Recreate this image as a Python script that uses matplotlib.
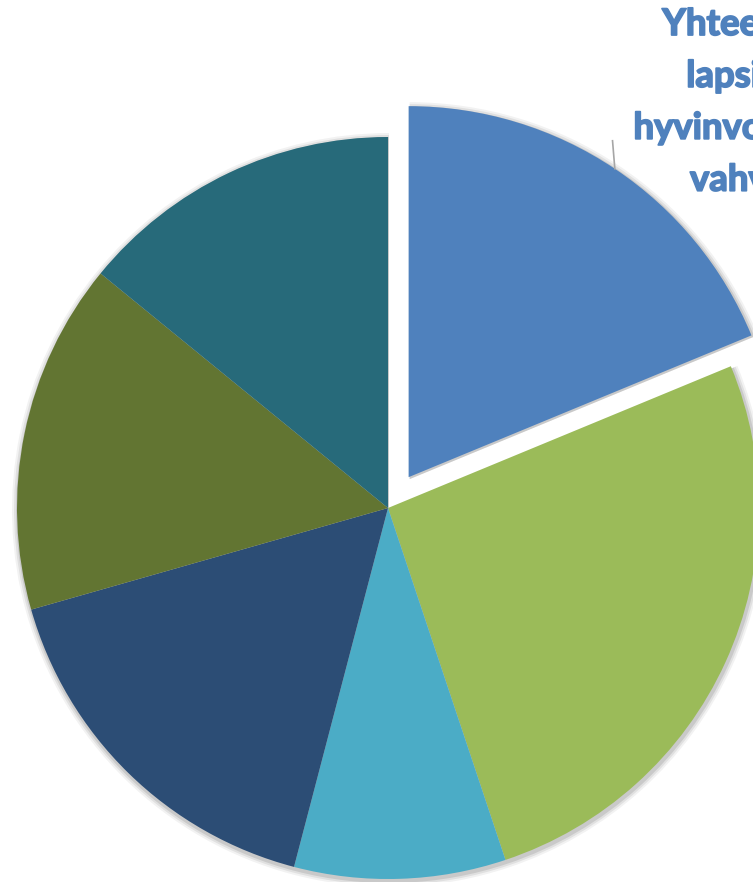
import matplotlib
matplotlib.use("Agg")
import matplotlib.pyplot as plt
import matplotlib.patheffects as pe
import numpy as np

# slice shares (%), clockwise from 12 o'clock
shares = [18.75, 26.1, 9.2, 16.5, 15.3, 14.1]
colors = ["#4F81BD", "#9BBB59", "#4BACC6", "#2C4D75", "#627532", "#276A7A"]
label_text = "Yhteensä\nlapsiin\nhyvinvoinnin\nvahva"

W, H = 753, 882
fig = plt.figure(figsize=(W / 100, H / 100), dpi=100)
ax = fig.add_axes([0, 0, 1, 1])

cx, cy, r = 388, 374, 371
explode = [0.1 * r, 0, 0, 0, 0, 0]   # pie() takes explode in data units here

# soft shadow behind the pie
for k, a in [(6, 0.05), (4, 0.07), (2, 0.10)]:
    ax.pie(shares, explode=explode, startangle=90, counterclock=False,
           radius=r + k, center=(cx + 1, cy - 2), colors=["#000000"] * 6,
           wedgeprops=dict(alpha=a, linewidth=0), frame=True)

wedges, _ = ax.pie(shares, explode=explode, startangle=90, counterclock=False,
                   radius=r, center=(cx, cy), colors=colors,
                   wedgeprops=dict(linewidth=0), frame=True)

ax.set_xlim(0, W)
ax.set_ylim(0, H)
ax.set_aspect("equal")
ax.axis("off")

# leader line from the exploded slice to its label
w = wedges[0]
mid = np.deg2rad((w.theta1 + w.theta2) / 2)
x0 = w.center[0] + w.r * np.cos(mid)
y0 = w.center[1] + w.r * np.sin(mid)
ax.plot([x0, x0 - 2.3], [y0, y0 + 28], color="#a6a6a6", lw=1.2)

ax.text(738, H - 8, label_text, ha="center", va="top", multialignment="center",
        fontsize=26.3, fontweight="bold", family=["Lato", "DejaVu Sans"],
        color="#4F81BD", linespacing=1.7,
        path_effects=[pe.withStroke(linewidth=1.3, foreground="#4F81BD")])

fig.savefig("out.png", dpi=100)
